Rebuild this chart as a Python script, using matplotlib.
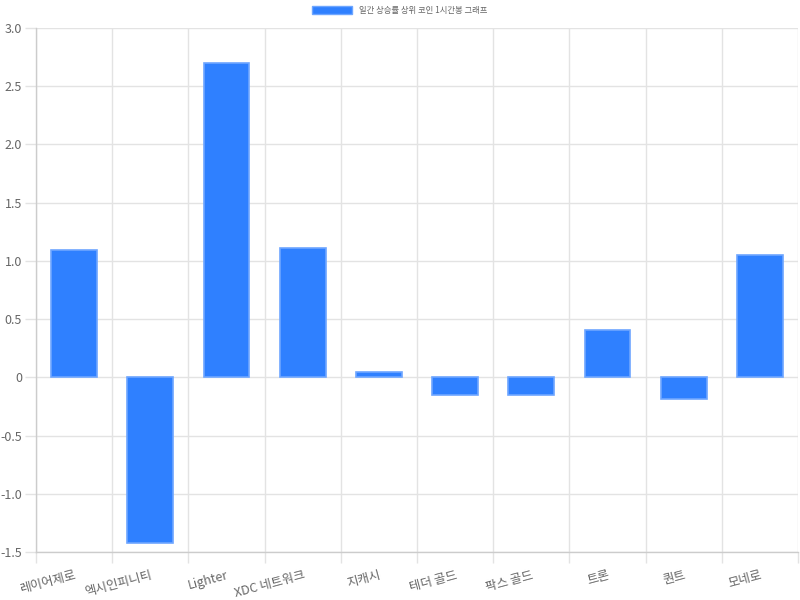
import matplotlib.pyplot as plt
from matplotlib.patches import Patch
from matplotlib.ticker import FixedLocator, FuncFormatter
import numpy as np

plt.rcParams['font.family'] = ['Noto Sans CJK KR', 'DejaVu Sans']

coins = ["레이어제로", "엑시인피니티", "Lighter", "XDC 네트워크", "지캐시",
         "테더 골드", "팍스 골드", "트론", "퀀트", "모네로"]
changes = [1.09, -1.42, 2.70, 1.11, 0.05, -0.155, -0.155, 0.41, -0.19, 1.05]
series_name = "일간 상승률 상위 코인 1시간봉 그래프"

bar_color = "#2f80ff"
edge_color = "#6ea6ff"
grid_color = "#e3e3e3"
text_color = "#666666"

fig = plt.figure(figsize=(8, 6), dpi=100)
ax = fig.add_axes([0.045, 0.08, 0.9525, 0.8733])

x = np.arange(len(coins))
ax.bar(x, changes, width=0.6, color=bar_color, edgecolor=edge_color, linewidth=1.2, zorder=3)

ax.set_xlim(-0.5, len(coins) - 0.5)
ax.set_ylim(-1.5, 3.0)

# category boundaries carry the vertical grid lines
ax.xaxis.set_major_locator(FixedLocator(x))
ax.xaxis.set_minor_locator(FixedLocator(np.arange(len(coins) + 1) - 0.5))
ax.set_xticklabels(coins, rotation=15, ha="right", rotation_mode="anchor",
                   fontsize=9, color=text_color)
ax.tick_params(axis="x", which="major", length=0, pad=12)
ax.tick_params(axis="x", which="minor", length=8, color=grid_color, width=1)
ax.grid(True, axis="x", which="minor", color=grid_color, linewidth=1, zorder=0)

yticks = np.arange(-1.5, 3.01, 0.5)
ax.yaxis.set_major_locator(FixedLocator(yticks))
ax.yaxis.set_major_formatter(FuncFormatter(lambda v, p: "0" if abs(v) < 1e-9 else f"{v:.1f}"))
ax.tick_params(axis="y", length=8, color=grid_color, width=1, labelsize=9,
               labelcolor=text_color, pad=2)
ax.grid(True, axis="y", which="major", color=grid_color, linewidth=1, zorder=0)

for side in ["top", "right"]:
    ax.spines[side].set_visible(False)
for side in ["left", "bottom"]:
    ax.spines[side].set_color("#cccccc")
    ax.spines[side].set_linewidth(1)

fig.legend(handles=[Patch(facecolor=bar_color, edgecolor=edge_color, label=series_name)],
           loc="upper center", bbox_to_anchor=(0.5, 1.0), frameon=False,
           fontsize=6, handlelength=4.8, handleheight=1.1, labelcolor=text_color,
           borderaxespad=0.3)

fig.savefig("out.png", dpi=100)
